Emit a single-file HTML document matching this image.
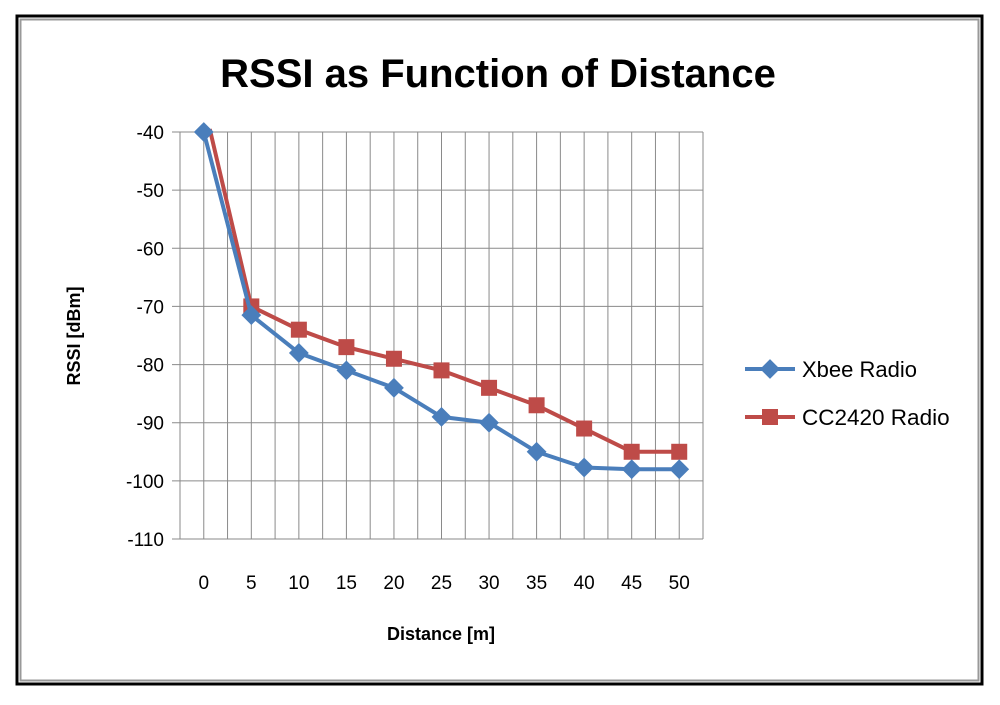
<!DOCTYPE html>
<html><head><meta charset="utf-8"><style>
body{margin:0;background:#fff;}
svg text{font-family:"Liberation Sans",sans-serif;fill:#000;}
</style></head><body>
<svg id="chart" width="1000" height="700" xmlns="http://www.w3.org/2000/svg">
<rect x="17" y="16" width="965" height="668" fill="none" stroke="#000" stroke-width="3"/>
<rect x="20.5" y="19.5" width="958" height="661" fill="none" stroke="#999" stroke-width="2"/>
<text x="498" y="87" font-size="40" font-weight="bold" text-anchor="middle">RSSI as Function of Distance</text>
<g id="grid"></g><g id="axes"></g><g id="series"></g>
<text transform="translate(80,336) rotate(-90)" font-size="18" font-weight="bold" text-anchor="middle">RSSI [dBm]</text>
<text x="441" y="640" font-size="18" font-weight="bold" text-anchor="middle">Distance [m]</text>
<g>
<g>
<line x1="745" y1="369" x2="795" y2="369" stroke="#4a7ebb" stroke-width="4"/>
<rect x="763" y="362" width="14" height="14" fill="#4a7ebb" transform="rotate(45 770 369)"/>
<text x="802" y="377" font-size="22">Xbee Radio</text></g>
<g>
<line x1="745" y1="417" x2="795" y2="417" stroke="#be4b48" stroke-width="4"/>
<rect x="762" y="409" width="16" height="16" fill="#be4b48"/>
<text x="802" y="425" font-size="22.5">CC2420 Radio</text></g>
</g>
</svg>
<script>
const categories=[0,5,10,15,20,25,30,35,40,45,50];
const xbee=[-40,-71.5,-78,-81,-84,-89,-90,-95,-97.7,-98,-98];
const cc2420=[-39.5,-70,-74,-77,-79,-81,-84,-87,-91,-95,-95];
const yTicks=[-40,-50,-60,-70,-80,-90,-100,-110];
const NS="http://www.w3.org/2000/svg";
const L=180,R=703,T=132,B=539;
const step=(R-L)/11;
function xPos(i){return L+step*(i+0.5);}
function yPos(v){return T+(v+40)/(-70)*(B-T);}
function mk(tag,attrs,parent){const e=document.createElementNS(NS,tag);for(const k in attrs)e.setAttribute(k,attrs[k]);parent.appendChild(e);return e;}
const grid=document.getElementById('grid'),axes=document.getElementById('axes'),series=document.getElementById('series');
for(let k=0;k<=22;k++){const x=L+step*k/2;
const g=mk('line',{x1:x,y1:T,x2:x,y2:B,stroke:'#8a8a8a','stroke-width':1},grid);

}
yTicks.forEach(v=>{const y=yPos(v);
const g=mk('line',{x1:L-8,y1:y,x2:R,y2:y,stroke:'#8a8a8a','stroke-width':1},grid);


const t=mk('text',{x:L-16,y:y+7,'font-size':19,'text-anchor':'end'},axes);t.textContent=v;

});
categories.forEach((c,i)=>{const t=mk('text',{x:xPos(i),y:589,'font-size':19,'text-anchor':'middle'},axes);t.textContent=c;

});
function draw(vals,color,name,marker,offset0){
const pts=vals.map((v,i)=>[xPos(i)+(i===0?offset0:0),yPos(v)]);
const p=mk('polyline',{points:pts.map(p=>p.join(',')).join(' '),fill:'none',stroke:color,'stroke-width':4,'stroke-linejoin':'round'},series);


pts.forEach((pt,i)=>{let m;
if(marker==='diamond'){m=mk('rect',{x:pt[0]-7,y:pt[1]-7,width:14,height:14,fill:color,transform:'rotate(45 '+pt[0]+' '+pt[1]+')'},series);}
else{if(i===0)return;m=mk('rect',{x:pt[0]-8,y:pt[1]-8,width:16,height:16,fill:color},series);}

});}
draw(cc2420,'#be4b48','cc2420','square',6);
draw(xbee,'#4a7ebb','xbee','diamond',0);
</script>
</body></html>
